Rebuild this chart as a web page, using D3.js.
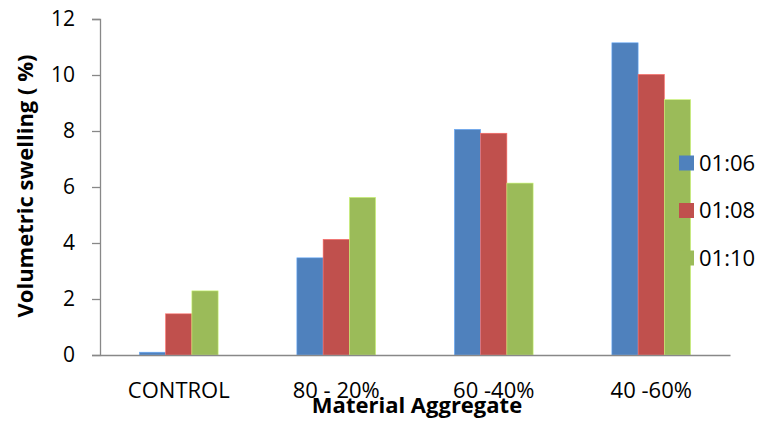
<!DOCTYPE html>
<html>
<head>
<meta charset="utf-8">
<script src="https://cdn.jsdelivr.net/npm/d3@7"></script>
<style>
  html, body { margin: 0; padding: 0; background: #fff; }
  svg { display: block; font-family: "Open Sans", "Liberation Sans", sans-serif; }
</style>
</head>
<body>
<svg id="chart" width="763" height="423"></svg>
<script>
// Volumetric swelling (%) by material aggregate mix, for three ratios
const categories = ["CONTROL", "80 - 20%", "60 -40%", "40 -60%"];
const seriesNames = ["01:06", "01:08", "01:10"];
const ratio106 = [0.1, 3.47, 8.06, 11.15];
const ratio108 = [1.47, 4.13, 7.92, 10.02];
const ratio110 = [2.29, 5.63, 6.14, 9.12];
const yTicks = [0, 2, 4, 6, 8, 10, 12];
const colors = ["#4F81BD", "#C0504D", "#9BBB59"];

const series = [ratio106, ratio108, ratio110];
const svg = d3.select("#chart");

const plotLeft = 100, plotRight = 730, plotTop = 19, plotBottom = 355;

const x = d3.scaleBand().domain(categories).range([plotLeft, plotRight]).paddingInner(0.5).paddingOuter(0.25);
const xs = d3.scaleBand().domain(seriesNames).range([0, x.bandwidth()]);
const y = d3.scaleLinear().domain([0, 12]).range([plotBottom, plotTop]);

// bars
categories.forEach((c, i) => {
  series.forEach((s, j) => {
    svg.append("rect")
      .attr("x", x(c) + xs(seriesNames[j]))
      .attr("y", y(s[i]))
      .attr("width", xs.bandwidth())
      .attr("height", y(0) - y(s[i]))
      .attr("fill", colors[j])
      .attr("stroke", d3.color(colors[j]).brighter(0.8))
      .attr("stroke-width", 0.6);
  });
});

// y axis
const yAxis = d3.axisLeft(y).tickValues(yTicks).tickSize(8).tickPadding(17);
const gy = svg.append("g").attr("transform", `translate(${plotLeft},0)`).call(yAxis);
gy.select(".domain").attr("stroke", "#888").attr("stroke-width", 1.3);
gy.selectAll(".tick line").attr("stroke", "#888").attr("stroke-width", 1.3);
gy.selectAll(".tick text").attr("font-size", 21).attr("fill", "#000")
  .attr("font-family", "'Open Sans', sans-serif");

// x axis
const xAxis = d3.axisBottom(x).tickSize(0).tickPadding(27);
const gx = svg.append("g").attr("transform", `translate(0,${plotBottom})`).call(xAxis);
gx.select(".domain").attr("stroke", "#888").attr("stroke-width", 1.6);
gx.selectAll(".tick text").attr("font-size", 22).attr("fill", "#000")
  .attr("font-family", "'Open Sans', sans-serif");

// axis titles
svg.append("text")
  .attr("x", 417).attr("y", 413)
  .attr("text-anchor", "middle")
  .attr("font-size", 22).attr("font-weight", "bold")
  .text("Material Aggregate");

svg.append("text")
  .attr("transform", "translate(33,186) rotate(-90)")
  .attr("text-anchor", "middle")
  .attr("font-size", 22).attr("font-weight", "bold")
  .text("Volumetric swelling ( %)");

// legend
const legend = svg.append("g");
seriesNames.forEach((n, j) => {
  const cy = 163 + j * 47.5;
  legend.append("rect")
    .attr("x", 679).attr("y", cy - 7.5).attr("width", 15).attr("height", 15)
    .attr("fill", colors[j]);
  legend.append("text")
    .attr("x", 699).attr("y", cy).attr("dy", "0.35em")
    .attr("font-size", 22)
    .text(n);
});
</script>
</body>
</html>
